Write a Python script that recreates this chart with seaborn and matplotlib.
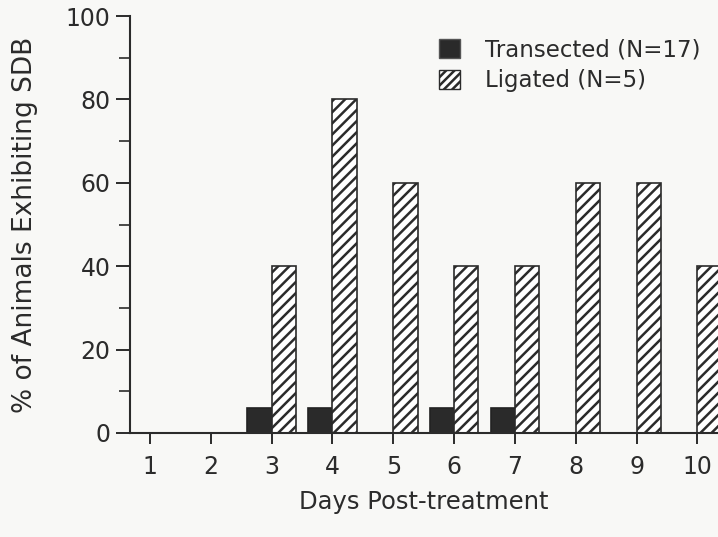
import matplotlib
matplotlib.use("Agg")
import matplotlib.pyplot as plt
from matplotlib.patches import Patch
from matplotlib.ticker import MultipleLocator
import seaborn as sns
import pandas as pd

days = ["1", "2", "3", "4", "5", "6", "7", "8", "9", "10"]
transected = [0, 0, 5.9, 5.9, 0, 5.9, 5.9, 0, 0, 0]
ligated = [0, 0, 40, 80, 60, 40, 40, 60, 60, 40]
groups = ["Transected (N=17)", "Ligated (N=5)"]
y_ticks = [0, 20, 40, 60, 80, 100]
x_label = "Days Post-treatment"
y_label = "% of Animals Exhibiting SDB"

df = pd.DataFrame({
    "day": days * 2,
    "pct": transected + ligated,
    "group": [groups[0]] * len(days) + [groups[1]] * len(days),
})

sns.set_theme(style="ticks")
plt.rcParams["font.family"] = ["DejaVu Sans"]
plt.rcParams["hatch.linewidth"] = 1.8
plt.rcParams["hatch.color"] = "#222222"

bg = "#f8f8f6"
ink = "#2b2b2b"
fig = plt.figure(figsize=(7.18, 5.37), dpi=100, facecolor=bg)
ax = fig.add_axes([0.181, 0.1937, 0.819, 0.7763])
ax.set_facecolor(bg)

sns.barplot(data=df, x="day", y="pct", hue="group", order=days,
            hue_order=groups, palette=["#2a2a2a", "white"], width=0.8,
            saturation=1, edgecolor=ink, linewidth=1.2, legend=False, ax=ax)

for bar in ax.containers[1]:
    bar.set_hatch("///")
    bar.set_facecolor("white")
    bar.set_edgecolor(ink)
for bar in ax.containers[0]:
    bar.set_edgecolor("#222222")

ax.set_xlim(-0.33, 9.34)
ax.set_ylim(0, 100)
ax.set_yticks(y_ticks)
ax.yaxis.set_minor_locator(MultipleLocator(10))
for s in ["top", "right"]:
    ax.spines[s].set_visible(False)
for s in ["left", "bottom"]:
    ax.spines[s].set_color(ink)
    ax.spines[s].set_linewidth(1.5)
ax.tick_params(axis="y", which="major", length=10, width=1.4, color=ink,
               labelsize=17, labelcolor=ink, pad=4)
ax.tick_params(axis="y", which="minor", length=8, width=1.2, color=ink)
ax.tick_params(axis="x", which="major", length=8, width=1.4, color=ink,
               labelsize=17, labelcolor=ink, pad=8)
ax.set_xlabel(x_label, fontsize=17.5, color=ink, labelpad=8)
ax.set_ylabel(y_label, fontsize=19, color=ink, labelpad=20)

handles = [Patch(facecolor="#2a2a2a", edgecolor="#555555"),
           Patch(facecolor="white", edgecolor=ink, hatch="////")]
leg = ax.legend(handles, groups, loc="upper left", bbox_to_anchor=(0.503, 0.98),
                frameon=False, fontsize=16.5, handlelength=0.9, handleheight=0.9,
                handletextpad=1.1, labelspacing=0.35, borderaxespad=0.2)
for t in leg.get_texts():
    t.set_color(ink)

fig.savefig("out.png", dpi=100, facecolor=bg)
